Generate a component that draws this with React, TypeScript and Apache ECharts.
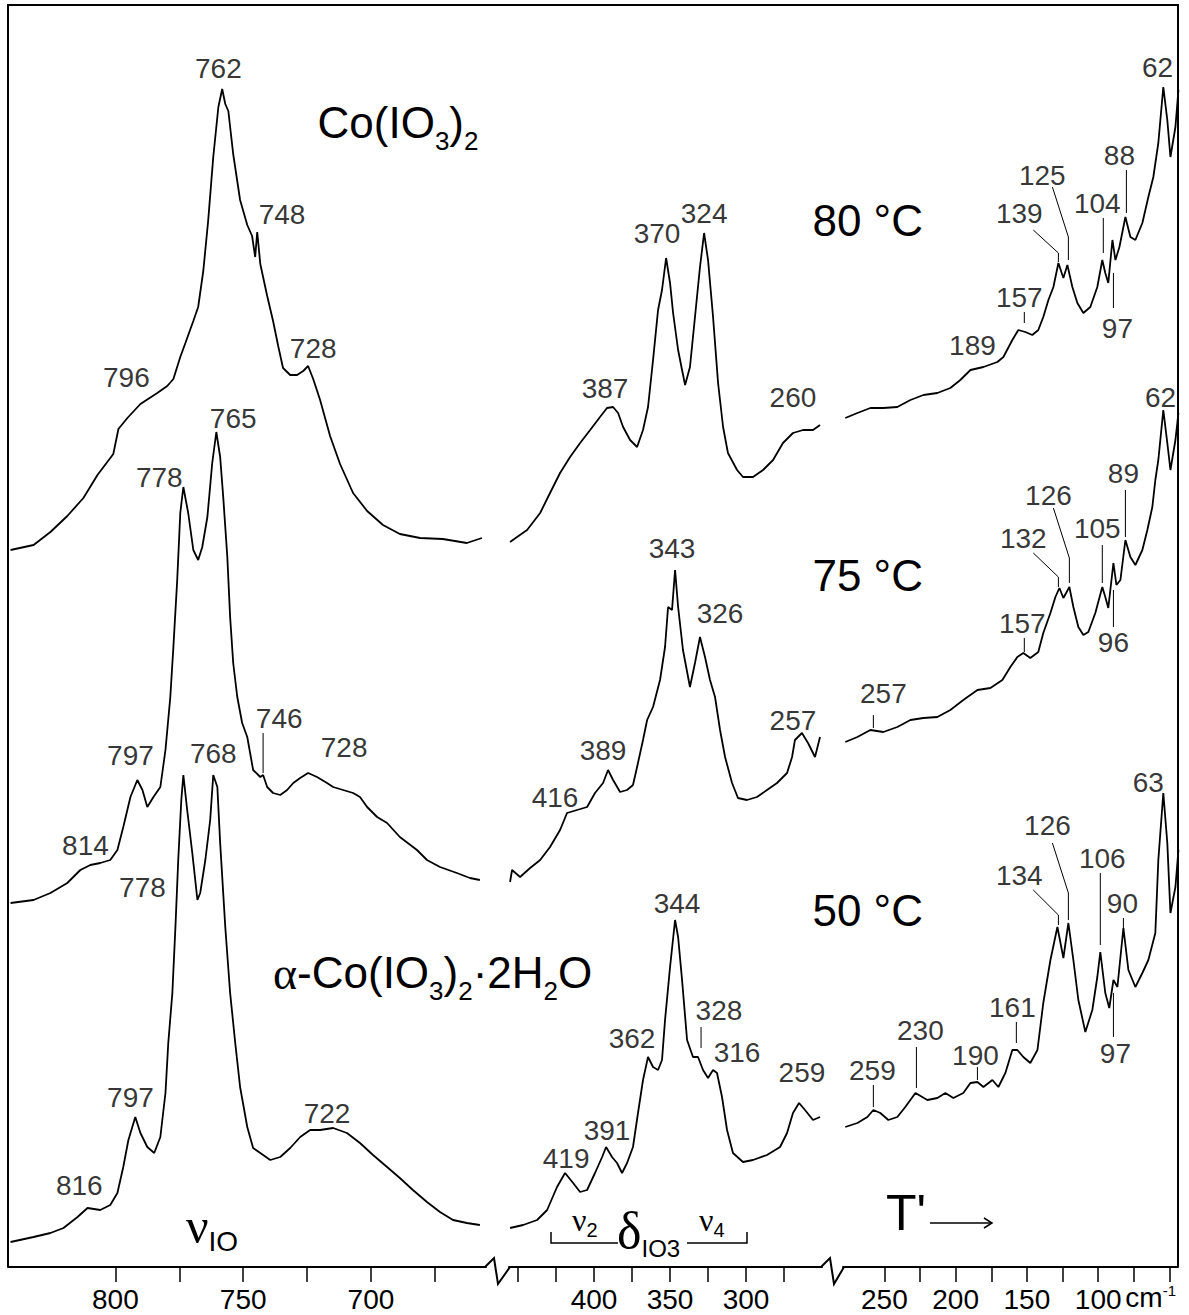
import React, { useEffect, useRef } from "react";
import * as echarts from "echarts";

const FONT = '"Liberation Sans", Arial, Helvetica, sans-serif';
const SERIF = '"Liberation Serif", "DejaVu Serif", "Times New Roman", serif';

// axis ticks / labels (cm-1)
const ticksL = [800, 775, 750, 725, 700, 675];
const labelsL = [800, 750, 700];
const ticksM = [450, 425, 400, 375, 350, 325, 300, 275];
const labelsM = [400, 350, 300];
const ticksR = [250, 225, 200, 175, 150, 125, 100, 75, 50];
const labelsR = [250, 200, 150, 100];

// ---- Co(IO3)2, 80 °C (top) ----
const s80_L = [[841,717],[832,722],[825.4,735],[818.8,751],[812.5,769],[807,792],[800.8,813],[798.8,838],[795.3,849],[790.2,863],[783.6,874],[779.7,881],[777.3,888],[774.6,910],[772.6,924],[769.5,946],[767.6,960],[765.6,996],[763.7,1046],[761.7,1110],[759.7,1160],[758.2,1178],[757,1163],[755.8,1156],[753.9,1113],[751.2,1067],[748.4,1042],[746.5,1031],[745.3,1010],[744.5,1035],[743.3,1003],[740.6,971],[738.3,946],[736.3,921],[734.4,899],[731.6,892],[728.9,892],[726.5,896],[724.6,901],[722.6,888],[719.9,867],[716,831],[712.1,803],[707,774],[701.5,756],[695.3,742],[688.7,733],[680.8,729],[671.9,728],[662.5,724],[656.6,729]];
const s80_M = [[455.3,725],[450.7,730],[444.1,737],[435.5,754],[429,774],[422.4,794],[415.8,810],[409.2,824],[402.6,837],[396.1,850],[391.5,859],[387.5,860],[384.2,854],[380.9,840],[376.3,827],[371.7,820],[367.8,837],[364.5,860],[361.2,907],[357.9,957],[355.3,977],[352.6,1009],[350,984],[348,954],[344.7,917],[342.1,897],[340.1,882],[336.9,900],[333.6,950],[330.3,1000],[327.6,1034],[325,1007],[321.7,950],[318.4,884],[315.1,840],[311.9,814],[305.9,797],[302,790],[295.4,790],[288.8,797],[282.2,807],[275.7,824],[269.1,834],[262.5,837],[255.9,837],[251.3,842]];
const s80_R = [[277.4,849],[268.9,854],[259.8,859],[250.7,859],[240.9,860],[231.7,867],[222.6,872],[212.8,874],[203.7,879],[196.7,887],[189.6,897],[180.5,900],[170.7,905],[166.5,910],[160.2,927],[156,937],[151.1,935],[146.2,932],[142,937],[138.5,950],[134.9,967],[131.4,980],[127.9,1004],[124.4,989],[121.6,1002],[118.1,980],[114.6,964],[110.4,954],[105.5,960],[100.6,980],[97.1,1007],[95,994],[92.9,984],[90,1027],[87.9,1007],[85.1,1020],[80.9,1050],[77.4,1030],[73.9,1027],[69,1044],[64.8,1070],[61.3,1090],[57.8,1124],[54.3,1180],[51.5,1147],[49.3,1110],[45.8,1140],[43.7,1177]];

// ---- 75 °C (middle) ----
const s75_L = [[841,364],[832,367],[825.4,374],[818.8,384],[813.7,397],[809.8,402],[805.9,404],[802,407],[799.2,417],[796.9,440],[794.1,470],[791.4,487],[789.4,477],[787.5,460],[785.1,470],[782.4,480],[780.4,517],[778.5,570],[777.3,620],[775.8,687],[774.6,754],[773.4,780],[771.5,754],[769.5,717],[767.6,707],[766,720],[764,750],[762.1,804],[760.5,835],[759,810],[757.8,770],[756.2,710],[755.1,650],[753.9,604],[752.3,570],[750.4,544],[748.4,530],[746.1,497],[743.3,490],[742.2,492],[740.6,480],[738.3,474],[735.5,472],[732.8,477],[730.4,484],[727.7,489],[724.6,494],[721.1,490],[717.2,484],[714.8,480],[710.9,477],[707,474],[704.3,470],[701.5,460],[697.6,450],[693.7,444],[688.7,430],[682,417],[678.1,407],[673,400],[666.4,394],[661.3,389],[657.4,387]];
const s75_M = [[455.3,385],[454,397],[448.7,390],[442.1,399],[435.5,407],[429,420],[422.4,437],[417.8,454],[411.2,457],[404.6,460],[399.4,474],[394.1,484],[390.8,497],[387.5,487],[382.9,475],[378.3,477],[374.4,482],[371.7,500],[367.8,527],[365.1,547],[361.2,560],[356.6,587],[353.3,620],[351.3,660],[348.7,657],[346.7,697],[344.7,660],[341.5,617],[336.9,580],[333.6,604],[330.3,630],[327,610],[323.7,587],[320.4,570],[317.1,537],[313.8,510],[309.2,484],[305.3,469],[299.4,467],[292.8,470],[286.2,477],[279.6,484],[273,494],[269.7,510],[267.8,527],[263.2,534],[259.2,524],[254.6,510],[251.3,530]];
const s75_R = [[277.4,525],[268.9,530],[259.8,537],[250.7,535],[240.9,540],[231.7,547],[222.6,549],[212.8,550],[203.7,557],[194.6,567],[184.7,577],[175.6,579],[167.2,587],[161.6,600],[156.7,610],[152.5,614],[147.6,609],[142,615],[138.5,634],[133.5,654],[130,670],[127.2,679],[124.4,669],[120.2,680],[117.4,660],[113.9,640],[110.4,632],[106.9,635],[102,654],[97.1,680],[95,670],[92.9,659],[89.3,704],[87.2,682],[84.4,687],[80.9,727],[77.4,710],[73.9,702],[69,717],[65.5,737],[62,760],[59.9,787],[57.8,807],[54.3,857],[51.5,824],[49.3,797],[45.8,827],[43.7,854]];

// ---- alpha-Co(IO3)2·2H2O, 50 °C (bottom) ----
const s50_L = [[841,25],[832,30],[825.4,34],[820.3,39],[814.8,50],[810.9,59],[805.9,57],[802,62],[799.2,74],[796.9,100],[794.9,127],[792.2,150],[790.2,134],[787.5,120],[784.8,114],[782.4,130],[780.4,174],[779.3,224],[777.7,274],[776.5,340],[775.4,407],[774.2,467],[773.4,492],[771.9,457],[769.9,414],[767.9,367],[766.8,374],[764.8,407],[762.9,447],[761.7,492],[760.1,480],[759,424],[757,340],[755.1,274],[753.1,224],[751.2,180],[748.4,140],[746.1,119],[743.3,114],[739.4,107],[735.5,110],[731.6,119],[727.7,130],[723.8,137],[719.9,137],[714.8,139],[709.4,134],[704.3,124],[699.2,112],[693.7,100],[688.7,89],[683.6,77],[678.1,65],[673,55],[667.9,47],[662.5,44],[657.4,42]];
const s50_M = [[455.3,39],[446.7,42],[437.5,47],[430.9,57],[424.4,80],[419.1,94],[413.8,84],[409.2,75],[404.6,77],[399.4,94],[394.7,110],[392.1,120],[388.2,110],[384.9,104],[381.6,94],[378.3,104],[374.4,120],[371.1,154],[367.8,187],[364.5,210],[361.2,200],[357.9,197],[355.3,207],[353.3,247],[350,300],[346.7,347],[344.7,330],[342.1,287],[338.8,227],[334.9,210],[331.6,210],[328.3,197],[325,189],[321.7,197],[319.1,194],[315.8,170],[312.5,137],[308.6,114],[302,105],[295.4,107],[286.2,112],[277.6,120],[273,134],[269.1,154],[265.1,164],[261.2,157],[255.9,147],[251.3,150]];
const s50_R = [[277.4,140],[268.9,144],[261.9,150],[257.7,157],[252.8,154],[247.2,147],[240.9,150],[235.3,160],[228.2,174],[219.8,167],[212.8,169],[207.2,174],[201.6,169],[194.6,174],[189.6,184],[184.7,185],[180.5,180],[174.2,187],[170,180],[165.1,194],[160.2,217],[156.7,217],[152.5,210],[147.6,204],[142.6,217],[138.5,264],[133.5,307],[128.6,340],[124.4,309],[120.9,344],[117.4,307],[113.9,267],[109,235],[104.1,257],[100.6,290],[98.5,315],[95,274],[92.2,259],[89.3,287],[86.5,280],[82.3,339],[78.8,297],[73.9,280],[69,294],[64.8,307],[59.9,334],[57.8,407],[54.3,474],[51.5,424],[49.3,354],[45.8,380],[43.7,417]];

// peak labels: [text, wavenumber position, intensity position]
const peaksL: [string, number, number][] = [["762",759.7,1199],["748",734.8,1053],["728",722.6,919],["796",795.7,890],["765",753.9,849],["778",782.8,790],["797",794.1,512],["746",735.9,549],["728",710.5,520],["814",811.7,422],["768",761.7,514],["778",789.4,380],["797",794.1,170],["722",717.2,154],["816",814.1,82]];
const peaksM: [string, number, number][] = [["370",358.6,1034],["324",327.6,1054],["387",392.8,879],["260",269.1,870],["343",348.7,719],["326",317.1,654],["389",394.1,517],["416",425.7,470],["257",269.1,547],["344",345.4,364],["328",317.8,257],["362",375,229],["316",305.9,215],["259",263.2,195],["391",391.5,137],["419",418.4,109]];
const peaksR: [string, number, number][] = [["62",58.4,1200],["88",85.1,1112],["104",100.6,1064],["125",139.2,1092],["139",155.3,1054],["157",155.3,970],["189",188.2,922],["97",86.5,939],["62",56.3,870],["89",82.3,794],["105",100.6,739],["126",134.9,772],["132",152.5,729],["157",153.2,644],["257",250.7,574],["96",89.3,625],["63",64.8,485],["126",135.6,442],["106",97.1,409],["134",155.3,392],["90",83,364],["161",160.2,260],["97",87.9,214],["230",224.7,237],["190",186.1,212],["259",258.4,197]];

// leader lines from labels to peaks
const leadersL = [[[742.2,534],[742.2,494]]];
const leadersM = [[[329.6,240],[329.6,219]]];
const leadersR = [
  [[80.2,1097],[80.2,1054]],[[96.4,1049],[96.4,1014]],[[132.1,1080],[120.9,1030],[120.9,1007]],[[145.5,1037],[127.9,1014],[127.9,1005]],[[151.8,955],[151.8,944]],[[89.3,994],[89.3,959]],
  [[80.9,777],[80.9,730]],[[97.1,722],[97.1,684]],[[131.4,759],[120.2,709],[120.2,684]],[[145.5,714],[127.9,690],[127.9,680]],[[151.8,629],[151.8,615]],[[257.7,552],[257.7,539]],[[89.3,677],[89.3,640]],
  [[132.1,424],[120.9,374],[120.9,347]],[[98.5,394],[98.5,322]],[[145.5,377],[127.9,352],[127.9,342]],[[82.3,349],[82.3,339]],[[157.4,245],[157.4,224]],[[89.3,274],[89.3,230]],[[227.5,220],[227.5,179]],[[184.7,200],[184.7,187]],[[257.7,182],[257.7,160]],
];

function buildOption() {
  const AXIS_Y_MAX = 1262;
  const grids = [
    { left: 8, top: 5, width: 478, height: 1262 },
    { left: 509, top: 5, width: 313, height: 1262 },
    { left: 843, top: 5, width: 335, height: 1262 },
  ];
  const ranges = [
    { min: 655, max: 842, ticks: ticksL, labels: labelsL },
    { min: 250, max: 456, ticks: ticksM, labels: labelsM },
    { min: 44, max: 279, ticks: ticksR, labels: labelsR },
  ];
  const xAxis = ranges.map((r, i) => ({
    type: "value",
    gridIndex: i,
    inverse: true,
    min: r.min,
    max: r.max,
    splitLine: { show: false },
    axisLine: { show: true, onZero: false, lineStyle: { color: "#000", width: 2 } },
    axisTick: { show: true, inside: false, length: 15, customValues: r.ticks, lineStyle: { color: "#000", width: 1.5 } },
    axisLabel: { show: true, customValues: r.labels, margin: 18, fontSize: 28, lineHeight: 28, color: "#000", fontFamily: FONT },
  }));
  const yAxis = grids.map((_, i) => ({ type: "value", gridIndex: i, min: 0, max: AXIS_Y_MAX, show: false }));

  const spectra = [
    [s80_L, 0], [s80_M, 1], [s80_R, 2],
    [s75_L, 0], [s75_M, 1], [s75_R, 2],
    [s50_L, 0], [s50_M, 1], [s50_R, 2],
  ] as [number[][], number][];

  const series: any[] = spectra.map(([d, g]) => ({
    type: "line", xAxisIndex: g, yAxisIndex: g, data: d, symbol: "none", showSymbol: false,
    lineStyle: { color: "#000", width: 1.8 }, silent: true,
  }));

  const leaderSets = [leadersL, leadersM, leadersR];
  leaderSets.forEach((set, g) => set.forEach((pts) => series.push({
    type: "line", xAxisIndex: g, yAxisIndex: g, data: pts, symbol: "none", showSymbol: false,
    lineStyle: { color: "#000", width: 1 }, silent: true,
  })));

  const peakSets = [peaksL, peaksM, peaksR];
  peakSets.forEach((set, g) => series.push({
    type: "scatter", xAxisIndex: g, yAxisIndex: g, symbolSize: 1, itemStyle: { color: "rgba(0,0,0,0)" }, silent: true,
    data: set.map(([t, v, y]) => ({ name: t, value: [v, y] })),
    label: { show: true, position: "inside", formatter: "{b}", fontSize: 28, color: "#000", fontFamily: FONT },
  }));

  const big = { fontSize: 44, fontFamily: FONT, fill: "#000", lineHeight: 54, verticalAlign: "top" };
  const sub = { fontSize: 26, fontFamily: FONT, fill: "#000", lineHeight: 26, verticalAlign: "bottom" };
  const greek = { fontSize: 46, fontFamily: SERIF, fill: "#000", lineHeight: 54, verticalAlign: "top" };

  const txt = (x: number, y: number, text: string, rich: any, align = "left") => ({
    type: "text", x, y, silent: true,
    style: { text, rich, align, textAlign: align, verticalAlign: "middle", textVerticalAlign: "middle", fill: "#000" },
  });

  const graphic: any[] = [
    { type: "polyline", shape: { points: [[8, 1267], [8, 5], [1178, 5], [1178, 1267]] }, style: { stroke: "#000", lineWidth: 2, fill: null } },
    { type: "polyline", shape: { points: [[485, 1267], [494, 1258], [498, 1284], [510, 1267]] }, style: { stroke: "#000", lineWidth: 2, fill: null } },
    { type: "polyline", shape: { points: [[821, 1267], [830, 1258], [834, 1284], [844, 1267]] }, style: { stroke: "#000", lineWidth: 2, fill: null } },
    // delta bracket
    { type: "polyline", shape: { points: [[551, 1232], [551, 1243], [618, 1243]] }, style: { stroke: "#000", lineWidth: 1.5, fill: null } },
    { type: "polyline", shape: { points: [[687, 1243], [747, 1243], [747, 1232]] }, style: { stroke: "#000", lineWidth: 1.5, fill: null } },
    // T' arrow
    { type: "line", shape: { x1: 930, y1: 1223, x2: 992, y2: 1223 }, style: { stroke: "#000", lineWidth: 1.5 } },
    { type: "polyline", shape: { points: [[984, 1218], [992, 1223], [984, 1228]] }, style: { stroke: "#000", lineWidth: 1.5, fill: null } },

    txt(398, 127, "{a|Co(IO}{s|3}{a|)}{s|2}", { a: big, s: sub }, "center"),
    txt(923, 225, "{a|80 °C}", { a: big }, "right"),
    txt(923, 580, "{a|75 °C}", { a: big }, "right"),
    txt(923, 915, "{a|50 °C}", { a: big }, "right"),
    txt(273, 977, "{g|α}{a|-Co(IO}{s|3}{a|)}{s|2}{a|·2H}{s|2}{a|O}", { a: big, s: sub, g: greek }, "left"),
    txt(186, 1228, "{g|ν}{s|IO}", { g: { ...greek, fontSize: 50 }, s: { ...sub, fontSize: 28 } }, "left"),
    txt(572, 1222, "{g|ν}{s|2}", { g: { ...greek, fontSize: 32, lineHeight: 36 }, s: { ...sub, fontSize: 20, lineHeight: 20 } }, "left"),
    txt(699, 1222, "{g|ν}{s|4}", { g: { ...greek, fontSize: 32, lineHeight: 36 }, s: { ...sub, fontSize: 20, lineHeight: 20 } }, "left"),
    txt(617, 1232, "{g|δ}{s|IO}{t|3}", { g: { ...greek, fontSize: 52, lineHeight: 56 }, s: { ...sub, fontSize: 24, lineHeight: 24 }, t: { ...sub, fontSize: 24, lineHeight: 12 } }, "left"),
    txt(886, 1215, "{a|T'}", { a: { ...big, fontSize: 50 } }, "left"),
    txt(1176, 1297, "{a|cm}{s|-1}", { a: { fontSize: 28, fontFamily: FONT, fill: "#000", lineHeight: 28, verticalAlign: "bottom" }, s: { fontSize: 15, fontFamily: FONT, fill: "#000", lineHeight: 15, verticalAlign: "top" } }, "right"),
  ];

  return {
    animation: false,
    backgroundColor: "#fff",
    grid: grids,
    xAxis,
    yAxis,
    series,
    graphic,
  };
}

export default function App() {
  const ref = useRef<HTMLDivElement>(null);
  useEffect(() => {
    document.body.style.margin = "0";
    const chart = echarts.init(ref.current!, null, { renderer: "svg" });
    chart.setOption(buildOption() as any);
    return () => chart.dispose();
  }, []);
  return <div ref={ref} style={{ width: 1189, height: 1315 }} />;
}
